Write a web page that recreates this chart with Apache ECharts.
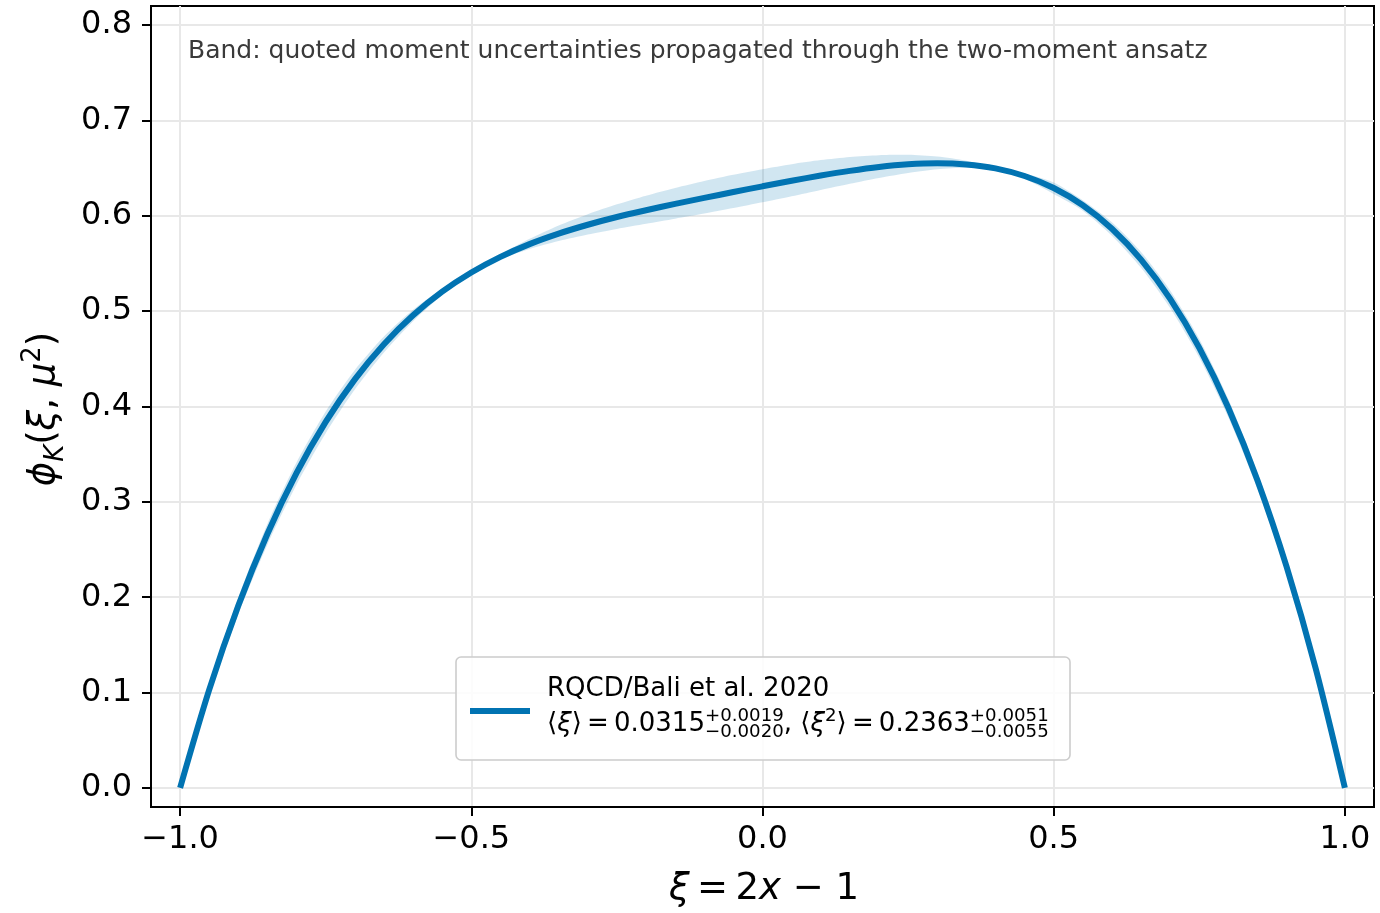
<!DOCTYPE html>
<html>
<head>
<meta charset="utf-8">
<script src="https://cdn.jsdelivr.net/npm/echarts@6/dist/echarts.min.js"></script>
<style>
  html, body { margin: 0; padding: 0; background: #ffffff; }
  #chart { width: 1380px; height: 913px; }
</style>
</head>
<body>
<div id="chart"></div>
<script>
// Kaon distribution amplitude phi_K(xi) on xi = 2x - 1
const xi = [
  -1.00, -0.95, -0.90, -0.85, -0.80, -0.75, -0.70, -0.65, -0.60, -0.55,
  -0.50, -0.45, -0.40, -0.35, -0.30, -0.25, -0.20, -0.15, -0.10, -0.05,
   0.00,  0.05,  0.10,  0.15,  0.20,  0.25,  0.30,  0.35,  0.40,  0.45,
   0.50,  0.55,  0.60,  0.65,  0.70,  0.75,  0.80,  0.85,  0.90,  0.95, 1.00
];
const phiCentral = [
  0.0000, 0.1030, 0.1913, 0.2666, 0.3303, 0.3838, 0.4284, 0.4653, 0.4956, 0.5204,
  0.5405, 0.5569, 0.5703, 0.5813, 0.5906, 0.5987, 0.6058, 0.6125, 0.6188, 0.6249,
  0.6309, 0.6367, 0.6422, 0.6471, 0.6512, 0.6540, 0.6551, 0.6539, 0.6497, 0.6417,
  0.6291, 0.6110, 0.5864, 0.5540, 0.5128, 0.4614, 0.3984, 0.3224, 0.2317, 0.1249, 0.0000
];
const phiUpper = [
  0.0000, 0.1081, 0.1998, 0.2771, 0.3415, 0.3948, 0.4383, 0.4734, 0.5015, 0.5236,
  0.5410, 0.5594, 0.5758, 0.5898, 0.6017, 0.6120, 0.6211, 0.6292, 0.6365, 0.6430,
  0.6489, 0.6541, 0.6584, 0.6617, 0.6636, 0.6639, 0.6621, 0.6577, 0.6502, 0.6444,
  0.6350, 0.6163, 0.5932, 0.5620, 0.5217, 0.4708, 0.4076, 0.3307, 0.2383, 0.1287, 0.0000
];
const phiLower = [
  0.0000, 0.0975, 0.1822, 0.2553, 0.3182, 0.3720, 0.4178, 0.4565, 0.4893, 0.5168,
  0.5400, 0.5545, 0.5651, 0.5735, 0.5803, 0.5862, 0.5916, 0.5969, 0.6023, 0.6081,
  0.6141, 0.6205, 0.6271, 0.6336, 0.6397, 0.6449, 0.6487, 0.6504, 0.6493, 0.6388,
  0.6229, 0.6054, 0.5791, 0.5454, 0.5032, 0.4513, 0.3885, 0.3135, 0.2247, 0.1208, 0.0000
];
const xTicks = [-1.0, -0.5, 0.0, 0.5, 1.0];
const yTicks = [0.0, 0.1, 0.2, 0.3, 0.4, 0.5, 0.6, 0.7, 0.8];
const seriesName = 'RQCD/Bali et al. 2020';
const noteText = 'Band: quoted moment uncertainties propagated through the two-moment ansatz';

const LINE_COLOR = '#0173b2';
const BAND_COLOR = 'rgba(1, 115, 178, 0.18)';
const FONT = '"DejaVu Sans", "Liberation Sans", sans-serif';

const chart = echarts.init(document.getElementById('chart'), null, { renderer: 'canvas' });

const fmt = v => (v < 0 ? '\u2212' : '') + Math.abs(v).toFixed(1);

// --- small helper that lays out math-like text as separate runs ---
const mctx = document.createElement('canvas').getContext('2d');
function runWidth(t, size, italic) {
  mctx.font = (italic ? 'italic ' : '') + size + 'px ' + FONT;
  return mctx.measureText(t).width;
}
function textEl(t, x, baseline, size, italic, fill) {
  return {
    type: 'text', x: x, y: baseline - 0.35 * size, silent: true, z: 100,
    style: {
      text: t, fontSize: size, fontFamily: FONT, fontStyle: italic ? 'italic' : 'normal',
      fill: fill, align: 'left', verticalAlign: 'middle'
    }
  };
}
// runs: {t, it, sc, dy} or {sup, sub, up, down, sc}
function mathRuns(runs, base, x0, baseline, fill) {
  const els = [];
  let x = x0;
  runs.forEach(r => {
    if (r.sup !== undefined) {
      const s = base * (r.sc || 0.7);
      const w1 = runWidth(r.sup, s, false), w2 = runWidth(r.sub, s, false);
      els.push(textEl(r.sup, x, baseline - r.up * base, s, false, fill));
      els.push(textEl(r.sub, x, baseline + r.down * base, s, false, fill));
      x += Math.max(w1, w2);
    } else {
      const s = base * (r.sc || 1);
      els.push(textEl(r.t, x, baseline + (r.dy || 0) * base, s, !!r.it, fill));
      x += runWidth(r.t, s, !!r.it);
    }
  });
  return { els: els, width: x - x0 };
}

const TS = '\u2009'; // thin space used around relations

function buildGraphics() {
  const g = [];
  // note in the upper-left corner
  g.push({
    type: 'text', x: 188, y: 51, silent: true, z: 100,
    style: { text: noteText, fontSize: 25, fontFamily: FONT, fill: '#3a3a3a', align: 'left', verticalAlign: 'middle' }
  });

  // legend box
  g.push({
    type: 'rect', silent: true, z: 90,
    shape: { x: 456, y: 657, width: 614, height: 103, r: 5 },
    style: { fill: 'rgba(255,255,255,0.85)', stroke: '#cccccc', lineWidth: 1.6 }
  });
  g.push({
    type: 'line', silent: true, z: 95,
    shape: { x1: 470, y1: 711, x2: 530, y2: 711 },
    style: { stroke: LINE_COLOR, lineWidth: 6 }
  });
  g.push({
    type: 'text', x: 547, y: 689, silent: true, z: 100,
    style: { text: seriesName, fontSize: 26, fontFamily: FONT, fill: '#000', align: 'left', verticalAlign: 'middle' }
  });
  const leg = mathRuns([
    { t: '\u27e8' }, { t: '\u03be', it: true }, { t: '\u27e9' + TS + '=' + TS + '0.0315' },
    { sup: '+0.0019', sub: '\u22120.0020', up: 0.38, down: 0.22 },
    { t: ', \u27e8' }, { t: '\u03be', it: true }, { t: '2', sc: 0.7, dy: -0.38 }, { t: '\u27e9' + TS + '=' + TS + '0.2363' },
    { sup: '+0.0051', sub: '\u22120.0055', up: 0.38, down: 0.22 }
  ], 26, 547, 733, '#000');
  leg.els.forEach(e => g.push(e));

  // x axis title
  const xl = [
    { t: '\u03be', it: true }, { t: TS + '=' + TS + '2' }, { t: 'x', it: true }, { t: ' \u2212 1' }
  ];
  const xlw = mathRuns(xl, 37, 0, 0, '#000').width;
  mathRuns(xl, 37, 764 - xlw / 2, 902, '#000').els.forEach(e => g.push(e));

  // y axis title, rotated
  const yl = [
    { t: '\u03d5', it: true }, { t: 'K', it: true, sc: 0.7, dy: 0.22 }, { t: '(' },
    { t: '\u03be', it: true }, { t: ', ' }, { t: '\u03bc', it: true },
    { t: '2', sc: 0.7, dy: -0.4 }, { t: ')' }
  ];
  const ylw = mathRuns(yl, 37, 0, 0, '#000').width;
  const ylEls = mathRuns(yl, 37, -ylw / 2, 12, '#000').els;
  g.push({ type: 'group', x: 45, y: 409, rotation: Math.PI / 2, z: 100, children: ylEls });
  return g;
}

const bandSeries = {
  type: 'custom',
  name: 'band',
  coordinateSystem: 'cartesian2d',
  clip: true,
  silent: true,
  z: 1,
  data: xi.map((x, i) => [x, phiLower[i], phiUpper[i]]),
  encode: { x: 0, y: [1, 2] },
  renderItem: function (params, api) {
    if (params.dataIndex !== 0) return null;
    const pts = [];
    for (let i = 0; i < xi.length; i++) pts.push(api.coord([xi[i], phiUpper[i]]));
    for (let i = xi.length - 2; i >= 1; i--) pts.push(api.coord([xi[i], phiLower[i]]));
    return {
      type: 'polygon',
      shape: { points: pts, smooth: 0.25 },
      style: { fill: BAND_COLOR, stroke: null }
    };
  }
};

const lineSeries = {
  type: 'line',
  name: seriesName,
  data: xi.map((x, i) => [x, phiCentral[i]]),
  showSymbol: false,
  smooth: 0.3,
  z: 5,
  lineStyle: { color: LINE_COLOR, width: 6, cap: 'butt' },
  itemStyle: { color: LINE_COLOR },
  emphasis: { disabled: true }
};

const option = {
  animation: false,
  backgroundColor: '#ffffff',
  grid: {
    left: 151, right: 6, top: 6, bottom: 106,
    show: true, borderColor: '#000', borderWidth: 2, backgroundColor: 'transparent'
  },
  xAxis: {
    type: 'value', min: -1.05, max: 1.05,
    minInterval: 0.5, maxInterval: 0.5,
    axisLine: { show: true, onZero: false, lineStyle: { color: '#000', width: 2 } },
    axisTick: { show: true, length: 9, customValues: xTicks, lineStyle: { color: '#000', width: 2 } },
    axisLabel: {
      customValues: xTicks, formatter: fmt, margin: 17,
      fontSize: 32, fontFamily: FONT, color: '#000'
    },
    splitLine: { show: true, lineStyle: { color: '#e8e8e8', width: 2 } }
  },
  yAxis: {
    type: 'value', min: -0.02, max: 0.82,
    minInterval: 0.1, maxInterval: 0.1,
    axisLine: { show: true, onZero: false, lineStyle: { color: '#000', width: 2 } },
    axisTick: { show: true, length: 9, customValues: yTicks, lineStyle: { color: '#000', width: 2 } },
    axisLabel: {
      customValues: yTicks, formatter: fmt, margin: 19,
      fontSize: 32, fontFamily: FONT, color: '#000'
    },
    splitLine: { show: true, lineStyle: { color: '#e8e8e8', width: 2 } }
  },
  series: [bandSeries, lineSeries],
  graphic: buildGraphics()
};

chart.setOption(option);
</script>
</body>
</html>
